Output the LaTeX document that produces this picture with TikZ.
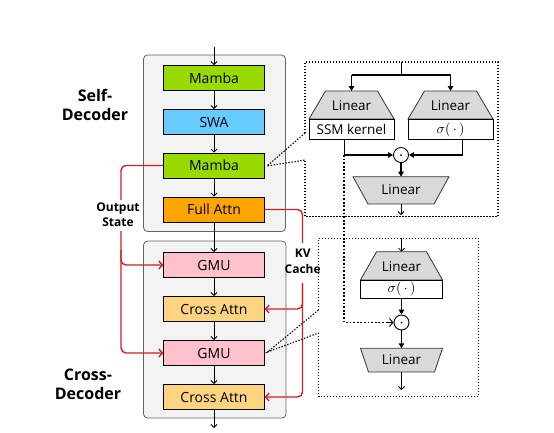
\documentclass[tikz,border=0pt]{standalone}
\usepackage{fontspec}
\setmainfont{Open Sans}
\usetikzlibrary{arrows.meta}
\definecolor{mambac}{RGB}{153,219,0}
\definecolor{swac}{RGB}{102,204,255}
\definecolor{fullc}{RGB}{255,165,0}
\definecolor{gmuc}{RGB}{255,193,204}
\definecolor{crossc}{RGB}{255,212,128}
\definecolor{panelc}{RGB}{243,243,243}
\definecolor{panelb}{RGB}{100,100,100}
\definecolor{trapc}{RGB}{217,217,217}
\definecolor{redc}{RGB}{204,32,40}
\begin{document}
\begin{tikzpicture}[x=1pt,y=-1pt,
  panel/.style={draw=panelb,fill=panelc,line width=0.8pt,rounded corners=4pt,inner sep=0pt},
  blk/.style={draw=black,line width=0.9pt,minimum width=100.5pt,minimum height=25pt,inner sep=0pt,font=\fontsize{14}{16}\selectfont},
  arr/.style={line width=0.8pt,-{Straight Barb[length=3pt,width=6pt]}},
  redl/.style={draw=redc,line width=1.4pt,rounded corners=5pt},
  reda/.style={redl,-{Straight Barb[length=3.5pt,width=8pt]}},
  lab/.style={font=\bfseries\fontsize{12}{15.7}\selectfont,align=center,inner sep=0pt},
  biglab/.style={font=\bfseries\fontsize{16}{19}\selectfont,align=center,inner sep=0pt},
  callout/.style={line width=1.1pt,dash pattern=on 1.4pt off 1.6pt},
  trap/.style={draw=black!80,fill=trapc,line width=0.8pt},
  rectw/.style={draw=black,fill=white,line width=0.9pt},
  txt/.style={font=\fontsize{13.5}{15}\selectfont,inner sep=0pt},
  sig/.style={inner sep=0pt},
  sl/.style={line width=1.3pt},
  farr/.style={sl,-{Triangle[length=5pt,width=5.5pt]}},
  oarr/.style={line width=0.8pt,-{Straight Barb[length=3pt,width=6pt]}},
  odot/.style={circle,draw=black,line width=0.9pt,fill=white,minimum size=15pt,inner sep=0pt},
  dotl/.style={line width=1.8pt,dash pattern=on 1.8pt off 1.8pt}
]
\useasboundingbox (0,0) rectangle (554,432);

% panels
\node[panel,minimum width=142pt,minimum height=176.5pt] (selfbox) at (214.5,143.25) {};
\node[panel,minimum width=142.5pt,minimum height=177pt] (crossbox) at (214.75,329.5) {};

% blocks
\node[blk,fill=mambac] (m1) at (214,78) {Mamba};
\node[blk,fill=swac] (swa) at (214,122) {SWA};
\node[blk,fill=mambac] (m2) at (214,165.5) {Mamba};
\node[blk,fill=fullc] (fa) at (214,209.5) {Full Attn};
\node[blk,fill=gmuc] (g1) at (214,265) {GMU};
\node[blk,fill=crossc] (c1) at (214,309) {Cross Attn};
\node[blk,fill=gmuc] (g2) at (214,353) {GMU};
\node[blk,fill=crossc] (c2) at (214,397) {Cross Attn};

\coordinate (in) at (214,47);
\coordinate (out) at (214,428);
\draw[arr] (in) -- (m1.north);
\draw[arr] (m1.south) -- (swa.north);
\draw[arr] (swa.south) -- (m2.north);
\draw[arr] (m2.south) -- (fa.north);
\draw[arr] (fa.south) -- (g1.north);
\draw[arr] (g1.south) -- (c1.north);
\draw[arr] (c1.south) -- (g2.north);
\draw[arr] (g2.south) -- (c2.north);
\draw[arr] (c2.south) -- (out);

% labels
\node[biglab] (sdlab) at (95,104.5) {Self-\\Decoder};
\node[biglab] (cdlab) at (88,384) {Cross-\\Decoder};
\node[lab] (oslab) at (118,214.8) {Output\\State};
\node[lab] (kvlab) at (302.7,261.3) {KV\\Cache};

% red output state
\coordinate (os1) at (121,200);
\coordinate (os2) at (121,231);
\coordinate (os3) at (121,250);
\draw[redl] (m2.west) -| (os1);
\draw[reda] (os2) |- (g2.west);
\draw[reda] (os3) |- (g1.west);

% red kv cache
\coordinate (kv1) at (302.5,243);
\coordinate (kv2) at (302.5,283);
\draw[redl] (fa.east) -| (kv1);
\draw[reda] (kv2) |- (c2.east);
\draw[reda] (kv2) |- (c1.east);

% callout top
\coordinate (m2e) at (267,166);
\coordinate (tA) at (305,133);
\coordinate (tB) at (305,160);
\coordinate (t1) at (305,62);
\coordinate (t2) at (498,62);
\coordinate (t3) at (498,216.7);
\coordinate (t4) at (305,216.7);
\draw[callout] (tA) -- (t1) -- (t2) -- (t3) -- (t4) -- (tB);
\draw[callout] (tA) -- (m2e) -- (tB);

% callout bottom
\coordinate (g2e) at (267.5,352);
\coordinate (bA) at (318.5,310);
\coordinate (bB) at (318.5,333);
\coordinate (b1) at (318.5,238.3);
\coordinate (b2) at (478.3,238.3);
\coordinate (b3) at (478.3,396.7);
\coordinate (b4) at (318.5,396.7);
\draw[callout] (bA) -- (b1) -- (b2) -- (b3) -- (b4) -- (bB);
\draw[callout] (bA) -- (g2e) -- (bB);

% ---- top detail (Mamba) ----
\coordinate (tin) at (401.5,62);
\coordinate (tsp) at (401.5,75);
\coordinate (tl) at (351.5,75);
\coordinate (tr) at (450.5,75);
\coordinate (tlb) at (351.5,91);
\coordinate (trb) at (450.5,91);
\draw[sl] (tin) -- (tsp);
\draw[sl] (tl) -- (tr);
\draw[farr] (tl) -- (tlb);
\draw[farr] (tr) -- (trb);

\draw[trap] (325.5,91) -- (377.5,91) -- (394,119) -- (309,119) -- cycle;
\node[txt] (lin1) at (351.5,105.5) {Linear};
\draw[rectw] (309,119) rectangle (394,139.5);
\node[txt] (ssm) at (351.5,129.5) {SSM kernel};

\draw[trap] (424.5,91) -- (476.5,91) -- (493,119) -- (408,119) -- cycle;
\node[txt] (lin2) at (450.5,105.5) {Linear};
\draw[rectw] (408,119) rectangle (493,139.5);
\node[sig] (sig1) at (450.5,129.5) {\scalebox{1.4}{$\sigma(\,\cdot\,)$}};

\node[odot] (od1) at (401,155) {};
\fill (od1.center) circle (1pt);
\coordinate (ssmb) at (344.3,139.5);
\coordinate (sigb) at (462.3,139.5);
\coordinate (jL) at (344.3,155);
\draw[farr] (ssmb) |- (od1.west);
\draw[farr] (sigb) |- (od1.east);

\coordinate (t3top) at (401,176.7);
\draw[farr] (od1.south) -- (t3top);
\draw[trap] (353,176.7) -- (449,176.7) -- (434,204) -- (368,204) -- cycle;
\node[txt] (lin3) at (401,190) {Linear};
\coordinate (t3b) at (401,204);
\coordinate (t3o) at (401,215);
\draw[oarr] (t3b) -- (t3o);

% ---- bottom detail (GMU) ----
\coordinate (bin) at (401.5,238.3);
\coordinate (bt4) at (401.5,251.7);
\draw[oarr] (bin) -- (bt4);
\draw[trap] (376.5,251.7) -- (426.5,251.7) -- (442.5,280) -- (360.5,280) -- cycle;
\node[txt] (lin4) at (401.5,266.5) {Linear};
\draw[rectw] (360.5,280) rectangle (442.5,298.5);
\node[sig] (sig2) at (401.5,289.3) {\scalebox{1.4}{$\sigma(\,\cdot\,)$}};

\node[odot] (od2) at (401.5,322.5) {};
\fill (od2.center) circle (1pt);
\coordinate (sig2b) at (401.5,298.5);
\draw[farr] (sig2b) -- (od2.north);
\coordinate (t5top) at (401.5,348.3);
\draw[farr] (od2.south) -- (t5top);
\draw[trap] (360.5,348.3) -- (442.5,348.3) -- (434.5,372) -- (368.5,372) -- cycle;
\node[txt] (lin5) at (401.5,360) {Linear};
\coordinate (t5b) at (401.5,372);
\coordinate (t5o) at (401.5,390);
\draw[oarr] (t5b) -- (t5o);

% dotted state path
\coordinate (dA) at (386,322.5);
\draw[dotl] (jL) |- (dA);
\draw[line width=0.9pt,-{Straight Barb[length=3.5pt,width=8pt]}] (dA) -- (od2.west);
\end{tikzpicture}
\end{document}
